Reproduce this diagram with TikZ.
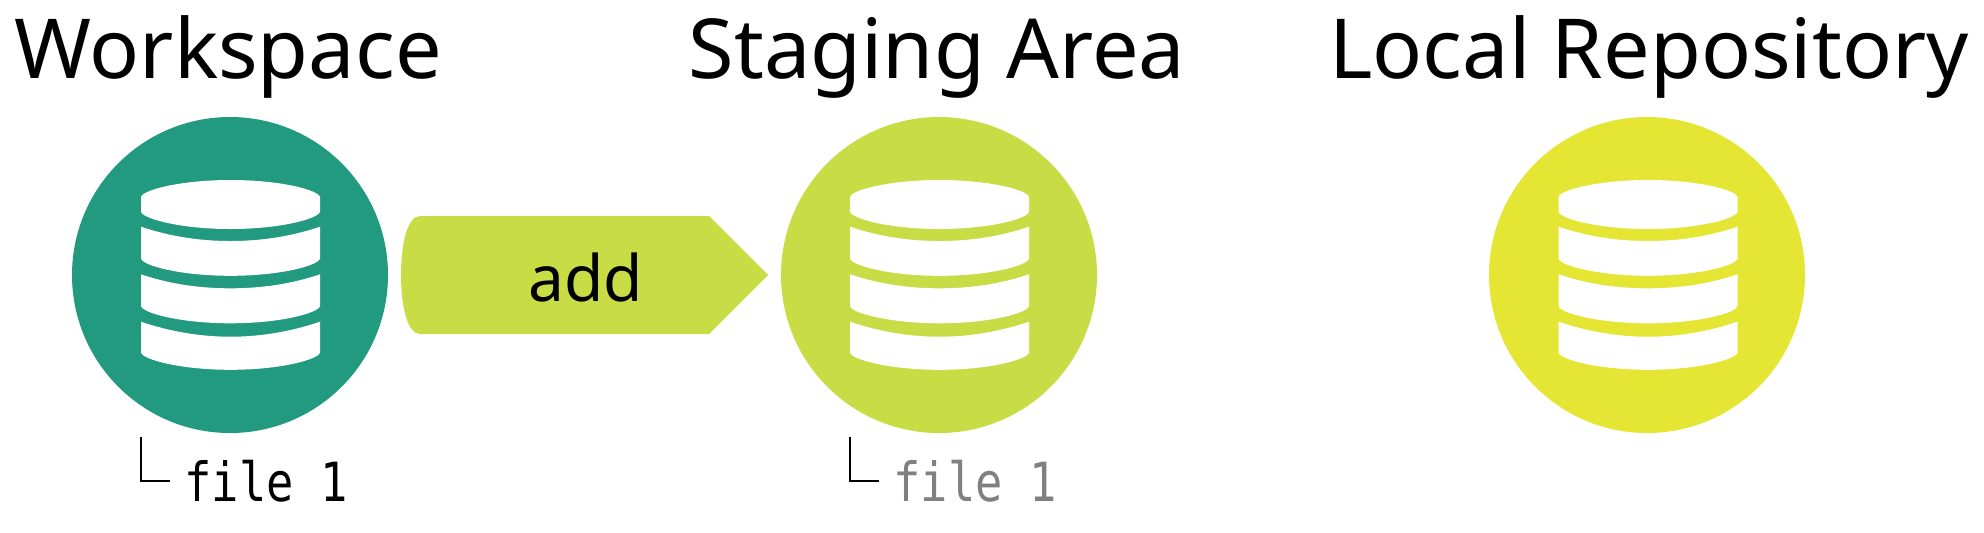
\documentclass[tikz,border=0pt]{standalone}
\usepackage{fontspec}
\setmainfont{Noto Sans}
\setmonofont[FakeStretch=0.84]{DejaVu Sans Mono}
\definecolor{teal1}{HTML}{219A80}
\definecolor{lime1}{HTML}{C7DC45}
\definecolor{yell1}{HTML}{E4E633}
\definecolor{grey1}{HTML}{808080}
\tikzset{
  title/.style={font=\fontsize{41.4}{50}\selectfont,text=black,inner sep=0pt,anchor=base},
  disc/.style={circle,minimum size=158pt,inner sep=0pt,draw=none,fill=#1},
  filelabel/.style={font=\ttfamily\fontsize{27}{30}\selectfont,inner sep=0pt,anchor=base west,text=#1},
  corner/.style={draw=#1,line width=1pt}
}
% #1 x centre, #2 side top, #3 side bottom, #4 centre of top edge
\newcommand{\cylband}[4]{%
  \fill[white] (#1-89.5,#2) .. controls (#1-60,#2+10) and (#1-30,#4) .. (#1,#4)
     .. controls (#1+30,#4) and (#1+60,#2+10) .. (#1+89.5,#2)
     -- (#1+89.5,#3) .. controls (#1+88,#3+7) and (#1+50,#3+17.3) .. (#1,#3+17.3)
     .. controls (#1-50,#3+17.3) and (#1-88,#3+7) .. (#1-89.5,#3) -- cycle;}
\newcommand{\cylicon}[1]{%
  \fill[white] (#1-89.5,197) .. controls (#1-88,190) and (#1-50,180) .. (#1,180)
     .. controls (#1+50,180) and (#1+88,190) .. (#1+89.5,197)
     -- (#1+89.5,211.7) .. controls (#1+88,218.7) and (#1+50,229) .. (#1,229)
     .. controls (#1-50,229) and (#1-88,218.7) .. (#1-89.5,211.7) -- cycle;
  \cylband{#1}{226.7}{258.5}{241}
  \cylband{#1}{274.3}{306}{288.3}
  \cylband{#1}{321.7}{352.5}{336.7}}
\begin{document}
\begin{tikzpicture}[x=0.5pt,y=-0.5pt]
\useasboundingbox (0,0) rectangle (1984,532);
\node[title] (t1) at (228,78) {Workspace};
\node[title] (t2) at (937,78) {Staging Area};
\node[title] (t3) at (1649,78) {Local Repository};
\node[disc=teal1] (d1) at (230,275) {};
\node[disc=lime1] (d2) at (939,275) {};
\node[disc=yell1] (d3) at (1647,275) {};
\cylicon{230.5}
\cylicon{939.5}
\cylicon{1648}
\fill[lime1] (420,216) -- (709,216) -- (768,275) -- (709,334) -- (420,334)
   .. controls (407,334) and (401,305) .. (401,275)
   .. controls (401,245) and (407,216) .. (420,216) -- cycle;
\node[font=\fontsize{32}{38}\selectfont,inner sep=0pt,anchor=base] (add) at (586,301) {add};
\coordinate (c1a) at (140.5,437);
\coordinate (c1b) at (140.5,481);
\coordinate (c1c) at (170,481);
\draw[corner=black] (c1a) -- (c1b) -- (c1c);
\node[filelabel=black] (f1) at (184,501) {file 1};
\coordinate (c2a) at (849.5,437);
\coordinate (c2b) at (849.5,481);
\coordinate (c2c) at (879,481);
\draw[corner=black] (c2a) -- (c2b) -- (c2c);
\node[filelabel=grey1] (f2) at (893,501) {file 1};
\end{tikzpicture}
\end{document}
